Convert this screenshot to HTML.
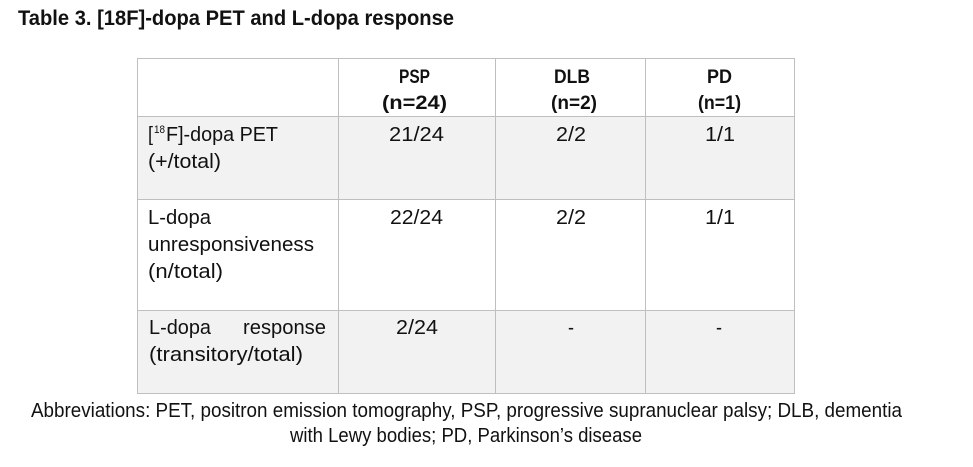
<!DOCTYPE html>
<html>
<head>
<meta charset="utf-8">
<style>
html,body{margin:0;padding:0;background:#fff;}
svg{display:block;}
text{font-family:"Liberation Sans",sans-serif;fill:#111;}
</style>
</head>
<body>
<svg width="973" height="467" viewBox="0 0 973 467" xmlns="http://www.w3.org/2000/svg">
<rect x="0" y="0" width="973" height="467" fill="#fff"/>
<text x="18" y="25" font-size="21" font-weight="bold" textLength="436" lengthAdjust="spacingAndGlyphs">Table 3. [18F]-dopa PET and L-dopa response</text>

<!-- shaded rows -->
<rect x="137" y="116" width="657" height="83" fill="#f2f2f2"/>
<rect x="137" y="310" width="657" height="83" fill="#f2f2f2"/>

<!-- grid lines -->
<g fill="#bfbfbf" shape-rendering="crispEdges">
<rect x="137" y="58" width="658" height="1"/>
<rect x="137" y="116" width="658" height="1"/>
<rect x="137" y="199" width="658" height="1"/>
<rect x="137" y="310" width="658" height="1"/>
<rect x="137" y="393" width="658" height="1"/>
<rect x="137" y="58" width="1" height="336"/>
<rect x="338" y="58" width="1" height="336"/>
<rect x="495" y="58" width="1" height="336"/>
<rect x="645" y="58" width="1" height="336"/>
<rect x="794" y="58" width="1" height="336"/>
</g>

<!-- header -->
<g font-size="19" font-weight="bold">
<text x="399" y="83" textLength="31" lengthAdjust="spacingAndGlyphs">PSP</text>
<text x="382" y="109" textLength="65" lengthAdjust="spacingAndGlyphs">(n=24)</text>
<text x="554" y="83" textLength="36" lengthAdjust="spacingAndGlyphs">DLB</text>
<text x="551" y="109" textLength="46" lengthAdjust="spacingAndGlyphs">(n=2)</text>
<text x="707" y="83" textLength="25" lengthAdjust="spacingAndGlyphs">PD</text>
<text x="698" y="109" textLength="43" lengthAdjust="spacingAndGlyphs">(n=1)</text>
</g>

<g font-size="20">
<!-- row 1 -->
<text x="148" y="141" textLength="5" lengthAdjust="spacingAndGlyphs">[</text>
<text x="154" y="133" font-size="11" textLength="11" lengthAdjust="spacingAndGlyphs">18</text>
<text x="166" y="141" textLength="112" lengthAdjust="spacingAndGlyphs">F]-dopa PET</text>
<text x="148" y="168" textLength="73" lengthAdjust="spacingAndGlyphs">(+/total)</text>
<text x="389" y="141" textLength="55" lengthAdjust="spacingAndGlyphs">21/24</text>
<text x="556" y="141" textLength="30" lengthAdjust="spacingAndGlyphs">2/2</text>
<text x="705" y="141" textLength="30" lengthAdjust="spacingAndGlyphs">1/1</text>

<!-- row 2 -->
<text x="148" y="224" textLength="63" lengthAdjust="spacingAndGlyphs">L-dopa</text>
<text x="148" y="251" textLength="166" lengthAdjust="spacingAndGlyphs">unresponsiveness</text>
<text x="148" y="278" textLength="75" lengthAdjust="spacingAndGlyphs">(n/total)</text>
<text x="390" y="224" textLength="53" lengthAdjust="spacingAndGlyphs">22/24</text>
<text x="556" y="224" textLength="30" lengthAdjust="spacingAndGlyphs">2/2</text>
<text x="705" y="224" textLength="30" lengthAdjust="spacingAndGlyphs">1/1</text>

<!-- row 3 -->
<text x="149" y="334" textLength="62" lengthAdjust="spacingAndGlyphs">L-dopa</text>
<text x="243" y="334" textLength="83" lengthAdjust="spacingAndGlyphs">response</text>
<text x="149" y="361" textLength="154" lengthAdjust="spacingAndGlyphs">(transitory/total)</text>
<text x="396" y="334" textLength="42" lengthAdjust="spacingAndGlyphs">2/24</text>
<text x="568" y="334" textLength="6" lengthAdjust="spacingAndGlyphs">-</text>
<text x="716" y="334" textLength="6" lengthAdjust="spacingAndGlyphs">-</text>

<!-- footnote -->
<text x="31" y="417" textLength="871" lengthAdjust="spacingAndGlyphs">Abbreviations: PET, positron emission tomography, PSP, progressive supranuclear palsy; DLB, dementia</text>
<text x="290" y="442" textLength="352" lengthAdjust="spacingAndGlyphs">with Lewy bodies; PD, Parkinson’s disease</text>
</g>
</svg>
</body>
</html>
